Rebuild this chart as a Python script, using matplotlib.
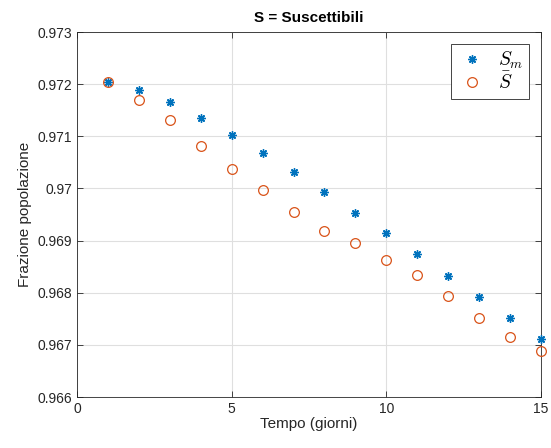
import numpy as np
import matplotlib
matplotlib.use("Agg")
from matplotlib import pyplot as plt
from matplotlib.ticker import FuncFormatter

plt.rcParams['font.family'] = ['Liberation Sans', 'DejaVu Sans']
plt.rcParams['mathtext.fontset'] = 'cm'

giorni = np.arange(1, 16)
s_m = [0.972047, 0.971888, 0.971651, 0.971357, 0.971030, 0.970679, 0.970308,
       0.969925, 0.969534, 0.969139, 0.968736, 0.968327, 0.967924, 0.967508, 0.967106]
s_bar = [0.972047, 0.971696, 0.971306, 0.970820, 0.970379, 0.969976, 0.969554,
         0.969189, 0.968947, 0.968621, 0.968345, 0.967942, 0.967508, 0.967155, 0.966882]
x_ticks = [0, 5, 10, 15]
y_ticks = [0.966, 0.967, 0.968, 0.969, 0.970, 0.971, 0.972, 0.973]

axis_col = '#262626'
fig = plt.figure(figsize=(5.51, 4.48), dpi=100)
ax = fig.add_axes([77/551, 1-397/448, (541-77)/551, (397-32)/448])

ax.plot(giorni, s_m, linestyle='none', marker=(8, 2, 0), markersize=6,
        color='#0072BD', markeredgewidth=1.0, label=r'$S_m$', zorder=3, clip_on=False)
ax.plot(giorni, s_bar, linestyle='none', marker='o', markersize=7,
        markerfacecolor='none', markeredgecolor='#D95319', markeredgewidth=0.9,
        label=r'$\bar{S}$', zorder=3, clip_on=False)

ax.set_xlim(0, 15)
ax.set_ylim(0.966, 0.973)
ax.set_xticks(x_ticks)
ax.set_yticks(y_ticks)
ax.yaxis.set_major_formatter(FuncFormatter(lambda v, p: '%g' % round(v, 4)))
ax.grid(True, color='#dfdfdf', linewidth=0.8)
ax.set_axisbelow(True)
ax.tick_params(direction='in', top=True, right=True, labelsize=10,
               colors=axis_col, length=4, width=0.6)
for s in ax.spines.values():
    s.set_color(axis_col)
    s.set_linewidth(0.6)

ax.set_title('S = Suscettibili', fontsize=11, fontweight='bold', color='black', pad=7)
ax.set_xlabel('Tempo (giorni)', fontsize=11, color=axis_col, labelpad=1)
ax.set_ylabel('Frazione popolazione', fontsize=11, color=axis_col, labelpad=4)

leg = ax.legend(loc='upper right', fontsize=14, fancybox=False, framealpha=1,
                edgecolor=axis_col, borderpad=0.3, handletextpad=0.6,
                handlelength=1.5, labelspacing=0.05, borderaxespad=0.6)
leg.get_frame().set_linewidth(0.6)

fig.savefig('out.png', dpi=100)
